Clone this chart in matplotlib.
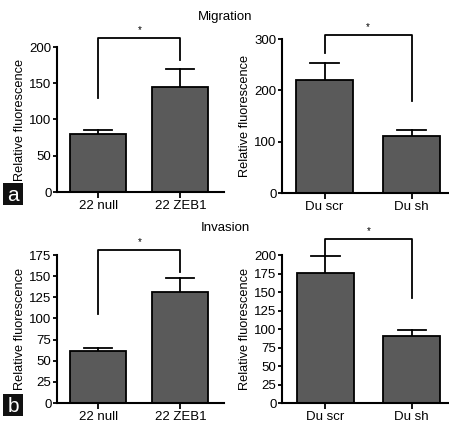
import matplotlib
matplotlib.use("Agg")
import matplotlib.pyplot as plt
from matplotlib.patches import Rectangle

plt.rcParams['font.family'] = ['Liberation Sans', 'DejaVu Sans']

# Data
mig_left_cats = ["22 null", "22 ZEB1"]
mig_left_vals = [80, 145]
mig_left_err = [6, 25]
mig_right_cats = ["Du scr", "Du sh"]
mig_right_vals = [220, 112]
mig_right_err = [33, 10]
inv_left_cats = ["22 null", "22 ZEB1"]
inv_left_vals = [62, 131]
inv_left_err = [3, 17]
inv_right_cats = ["Du scr", "Du sh"]
inv_right_vals = [176, 90]
inv_right_err = [22, 9]

mig_left_ticks = [0, 50, 100, 150, 200]
mig_right_ticks = [0, 100, 200, 300]
inv_left_ticks = [0, 25, 50, 75, 100, 125, 150, 175]
inv_right_ticks = [0, 25, 50, 75, 100, 125, 150, 175, 200]

W, H = 449, 423
fig = plt.figure(figsize=(W/100, H/100), dpi=100)
fig.patch.set_facecolor('white')
FS = 9

def px_axes(x0, x1, ytop, ybot):
    return fig.add_axes([x0/W, 1-ybot/H, (x1-x0)/W, (ybot-ytop)/H])

def panel(ax, cats, vals, errs, ticks, ymax, xlim, width, bracket):
    xs = list(range(len(cats)))
    ax.bar(xs, vals, width=width, color='#5a5a5a', edgecolor='black', linewidth=1.3, zorder=2)
    for x, v, e in zip(xs, vals, errs):
        ax.plot([x, x], [v, v+e], color='black', lw=1.3, zorder=1, clip_on=False)
        ax.plot([x-width*0.25, x+width*0.25], [v+e, v+e], color='black', lw=1.3, zorder=1, clip_on=False)
    ax.set_ylim(0, ymax)
    ax.set_xlim(*xlim)
    ax.set_yticks(ticks)
    ax.set_xticks(xs)
    ax.set_xticklabels(cats, fontsize=FS + 0.5)
    ax.tick_params(axis='y', labelsize=FS + 0.5, length=3, width=1.3, pad=1)
    ax.tick_params(axis='x', length=4, width=1.3, pad=2)
    for s in ['top', 'right']:
        ax.spines[s].set_visible(False)
    for s in ['left', 'bottom']:
        ax.spines[s].set_linewidth(1.5)
    ax.set_ylabel("Relative fluorescence", fontsize=FS + 0.2, labelpad=2)
    top, l_end, r_end = bracket
    ax.plot([0, 0, 1, 1], [l_end, top, top, r_end], color='black', lw=1.3, clip_on=False)
    ax.text(0.5, top + ymax*0.02, "*", ha='center', va='bottom', fontsize=7, clip_on=False)

ax1 = px_axes(57, 224, 47, 192)
panel(ax1, mig_left_cats, mig_left_vals, mig_left_err, mig_left_ticks, 200, (-0.5, 1.53), 0.68, (213, 130, 182))
ax2 = px_axes(282, 449, 39, 193)
panel(ax2, mig_right_cats, mig_right_vals, mig_right_err, mig_right_ticks, 300, (-0.49, 1.43), 0.655, (308, 272, 180))
ax3 = px_axes(57, 224, 255, 403)
panel(ax3, inv_left_cats, inv_left_vals, inv_left_err, inv_left_ticks, 175, (-0.5, 1.53), 0.68, (181, 105, 155))
ax4 = px_axes(282, 449, 255, 403)
panel(ax4, inv_right_cats, inv_right_vals, inv_right_err, inv_right_ticks, 200, (-0.5, 1.43), 0.66, (222, 198, 142))

fig.text(225/W, 1-17/H, "Migration", ha='center', va='center', fontsize=FS + 0.5)
fig.text(225/W, 1-228/H, "Invasion", ha='center', va='center', fontsize=FS + 0.5)

for lab, yc in [("a", 194), ("b", 405)]:
    fig.patches.append(Rectangle((3/W, 1-(yc+11)/H), 20/W, 22/H, transform=fig.transFigure,
                                 facecolor='#111111', edgecolor='none'))
    fig.text(13/W, 1-(yc+1)/H, lab, ha='center', va='center', fontsize=15, color='white')

fig.savefig("out.png", dpi=100, facecolor='white')
